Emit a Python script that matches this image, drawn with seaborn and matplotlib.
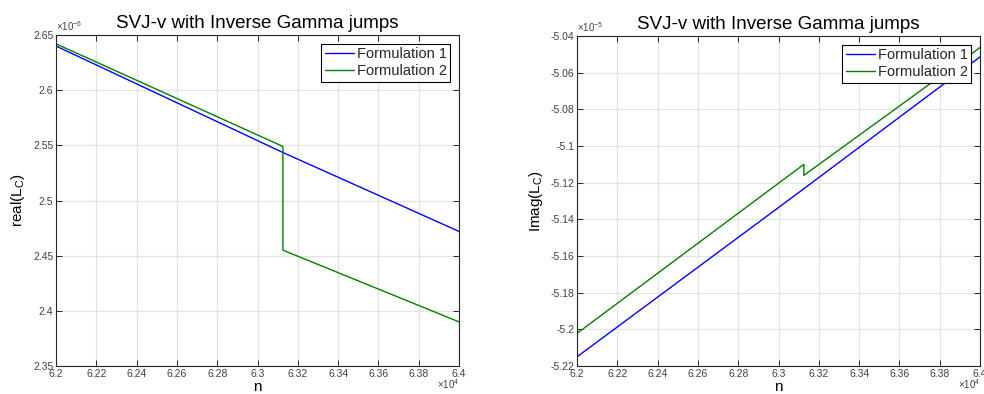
import numpy as np
import pandas as pd
import matplotlib
matplotlib.use("Agg")
import matplotlib.pyplot as plt
import seaborn as sns
from matplotlib.ticker import FuncFormatter, MultipleLocator

# ---- data ----
n_f1 = [62000, 63126, 64000]
real_f1 = [2.640e-6, 2.5435e-6, 2.472e-6]
imag_f1 = [-5.2150e-5, -5.1233e-5, -5.0514e-5]

n_f2 = [62000, 63126, 63126, 64000]
real_f2 = [2.642e-6, 2.549e-6, 2.455e-6, 2.390e-6]
imag_f2 = [-5.2022e-5, -5.1100e-5, -5.1160e-5, -5.0463e-5]

series_names = ["Formulation 1", "Formulation 2"]
series_colors = ["#0000ff", "#008000"]

df = pd.concat([
    pd.DataFrame({"n": n_f1, "real": real_f1, "imag": imag_f1, "series": series_names[0]}),
    pd.DataFrame({"n": n_f2, "real": real_f2, "imag": imag_f2, "series": series_names[1]}),
], ignore_index=True)

sns.set_theme(style="whitegrid")
plt.rcParams["font.family"] = ["Liberation Sans", "DejaVu Sans"]
plt.rcParams["mathtext.fontset"] = "custom"
plt.rcParams["mathtext.rm"] = "Liberation Sans"
plt.rcParams["mathtext.it"] = "Liberation Sans"

fig = plt.figure(figsize=(9.84, 3.94), dpi=100)
fig.patch.set_facecolor("white")
ax1 = fig.add_axes([56/984, 28/394, 403/984, 331/394])
ax2 = fig.add_axes([577/984, 28/394, 403/984, 330/394])

palette = dict(zip(series_names, series_colors))

def style(ax, ylim, ystep, yscale, yexp, ylabel):
    ax.set_facecolor("white")
    ax.set_xlim(62000, 64000)
    ax.set_ylim(*ylim)
    ax.xaxis.set_major_locator(MultipleLocator(200))
    ax.yaxis.set_major_locator(MultipleLocator(ystep))
    ax.xaxis.set_major_formatter(FuncFormatter(lambda v, p: f"{round(v/1e4, 4):g}"))
    ax.yaxis.set_major_formatter(FuncFormatter(lambda v, p: f"{round(v/yscale, 4):g}"))
    ax.grid(True, color="#e3e3e3", linewidth=0.9)
    ax.set_axisbelow(True)
    for s in ax.spines.values():
        s.set_visible(True)
        s.set_color("#262626")
        s.set_linewidth(0.8)
    ax.tick_params(direction="in", length=4, width=0.7, colors="#262626",
                   labelsize=7.5, top=True, right=True, bottom=True, left=True,
                   labelcolor="#404040", pad=2)
    ax.set_xlabel("n", fontsize=11, labelpad=1, color="black")
    ax.set_ylabel(ylabel, fontsize=11, labelpad=4, color="black")
    ax.set_title("SVJ-v with Inverse Gamma jumps", fontsize=13.5, pad=5, color="black")
    ax.text(1.0, -0.077, r"$\times10^{4}$", transform=ax.transAxes, ha="right",
            va="bottom", fontsize=7, color="#404040")
    ax.text(0.0, 1.005, r"$\times10^{%d}$" % yexp, transform=ax.transAxes, ha="left",
            va="bottom", fontsize=7, color="#404040")
    leg = ax.legend(loc="upper right", fontsize=10.5, frameon=True, fancybox=False,
                    borderpad=0.25, handlelength=2.0, handletextpad=0.2,
                    labelspacing=0.2, borderaxespad=0.6)
    leg.get_frame().set_edgecolor("black")
    leg.get_frame().set_linewidth(0.8)
    leg.get_frame().set_alpha(1)
    leg.set_title(None)

sns.lineplot(data=df, x="n", y="real", hue="series", palette=palette,
             estimator=None, sort=False, linewidth=1.0, ax=ax1)
sns.lineplot(data=df, x="n", y="imag", hue="series", palette=palette,
             estimator=None, sort=False, linewidth=1.0, ax=ax2)

style(ax1, (2.35e-6, 2.65e-6), 0.05e-6, 1e-6, -6, r"real(L$_{\mathrm{C}}$)")
style(ax2, (-5.22e-5, -5.04e-5), 0.02e-5, 1e-5, -5, r"Imag(L$_{\mathrm{C}}$)")

fig.savefig("out.png", dpi=100, facecolor="white")
